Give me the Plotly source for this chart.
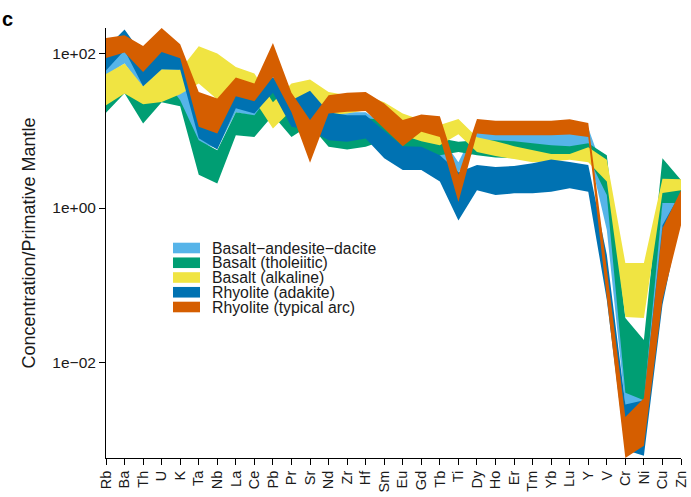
import math
import plotly.graph_objects as go

elements = ["Rb", "Ba", "Th", "U", "K", "Ta", "Nb", "La", "Ce", "Pb", "Pr", "Sr", "Nd", "Zr", "Hf", "Sm",
            "Eu", "Gd", "Tb", "Ti", "Dy", "Ho", "Er", "Tm", "Yb", "Lu", "Y", "V", "Cr", "Ni", "Cu", "Zn"]

groups = ["Basalt\u2212andesite\u2212dacite", "Basalt (tholeiitic)", "Basalt (alkaline)",
          "Rhyolite (adakite)", "Rhyolite (typical arc)"]
colors = ["#56B4E9", "#009E73", "#F0E442", "#0072B2", "#D55E00"]

bad_max = [127, 147, 94, 147, 60, 28.7, 24.8, 39, 33, 45, 24.8, 28.7, 18.4, 17.3, 17.3, 11.8,
           7.5, 8.7, 8.7, 3.9, 11.8, 11.8, 11.8, 11.8, 11.8, 11.8, 10.8, 2.3, 0.0060, 0.0052, 1.27, 1.7]
bad_min = [52, 74, 35, 57, 21.3, 7.1, 5.9, 17.3, 15.4, 31, 13.7, 11.8, 8.7, 8.0, 8.5, 5.6,
           4.2, 4.2, 3.6, 2.9, 6.1, 6.1, 6.1, 6.1, 6.1, 6.1, 5.6, 0.52, 0.0027, 0.0025, 0.57, 0.81]

tho_max = [45, 60, 33, 52, 24.8, 7.5, 5.6, 17.3, 15.8, 33, 21.3, 18.4, 15.8, 14.5, 14.5, 13.7,
           10.1, 9.3, 8.0, 7.2, 7.5, 7.5, 7.3, 6.9, 6.5, 6.3, 6.9, 4.8, 0.038, 0.0198, 4.4, 2.3]
tho_min = [17.0, 30.5, 12.4, 23.3, 20.7, 2.7, 2.08, 8.7, 8.3, 15.8, 8.3, 11.8, 6.2, 5.7, 6.2, 7.5,
           5.6, 5.3, 4.8, 5.3, 4.8, 4.5, 4.4, 4.4, 4.4, 4.4, 4.5, 1.47, 0.0041, 0.0033, 1.16, 1.16]

alk_max = [54, 73.6, 37.5, 62, 61, 123, 99, 66.5, 54.7, 23.3, 40.6, 45.8, 31.7, 28.7, 28.7, 23.3,
           16.7, 13.7, 11.8, 14.1, 8.2, 7.3, 6.3, 5.6, 5.0, 5.0, 6.1, 4.2, 0.195, 0.195, 2.4, 2.35]
alk_min = [21.3, 30.2, 22, 23.5, 29.6, 40.6, 25.3, 31, 24.8, 10.7, 18.4, 24.8, 15.8, 16.7, 18.4, 11.8,
           8.7, 7.3, 6.5, 9.0, 5.3, 4.7, 4.3, 3.9, 4.0, 4.2, 3.9, 2.2, 0.039, 0.038, 1.56, 1.7]

ada_max = [116, 202, 94, 147, 109, 24.8, 21.3, 39, 33, 49.4, 24.8, 32.7, 17.3, 15.8, 15.8, 10.1,
           6.3, 6.2, 4.8, 2.9, 3.6, 3.4, 3.5, 3.8, 4.25, 3.95, 3.6, 0.25, 0.0029, 0.0033, 0.60, 1.6]
ada_min = [60, 109, 37.5, 62, 61, 8.0, 5.7, 19.5, 16.7, 31, 11.2, 10.1, 7.5, 7.2, 7.9, 4.4,
           3.1, 3.1, 2.2, 0.69, 1.7, 1.47, 1.55, 1.55, 1.62, 1.8, 1.62, 0.065, 0.00075, 0.00063, 0.056, 0.81]

arc_max = [157, 171, 124, 212, 131, 31.7, 26, 48.5, 40.6, 136, 31, 13.7, 28.7, 30.8, 31.7, 22.4,
           13.7, 16.2, 15.4, 2.7, 14.1, 13.4, 13.4, 13.4, 13.4, 14.0, 12.6, 0.163, 0.0020, 0.0035, 0.55, 1.7]
arc_min = [87, 102, 57.4, 104, 86, 11.2, 9.2, 27.9, 24, 49.4, 17.3, 3.85, 16.7, 17.5, 17.9, 10.7,
           6.3, 9.7, 8.3, 1.2, 9.2, 8.7, 8.7, 8.7, 8.7, 8.9, 8.3, 0.071, 0.00059, 0.00085, 0.065, 0.60]

ranges_max = [bad_max, tho_max, alk_max, ada_max, arc_max]
ranges_min = [bad_min, tho_min, alk_min, ada_min, arc_min]

FONT = "Liberation Sans, Arial, sans-serif"
W, H = 691, 497
ML, MR, MT, MB = 106, 10, 28, 39
PW, PH = W - ML - MR, H - MT - MB


def px_x(px):
    return (px - ML) / PW


def px_y(py):
    return (H - MB - py) / PH


fig = go.Figure()
idx = list(range(len(elements)))
for name, col, hi, lo in zip(groups, colors, ranges_max, ranges_min):
    fig.add_trace(go.Scatter(
        x=idx + idx[::-1], y=hi + lo[::-1], mode="lines", fill="toself",
        fillcolor=col, line=dict(width=0, color=col), name=name,
        showlegend=False, hoverinfo="skip"))

all_vals = [v for s in ranges_max + ranges_min for v in s]
yr = [math.log10(min(all_vals)), math.log10(max(all_vals))]

# manual legend (keys + labels)
shapes = []
annotations = []
for i, (name, col) in enumerate(zip(groups, colors)):
    yc = 248 + 14.75 * i
    shapes.append(dict(type="rect", xref="paper", yref="paper",
                       x0=px_x(173), x1=px_x(200), y0=px_y(yc + 5.3), y1=px_y(yc - 5.3),
                       fillcolor=col, line=dict(width=0)))
    annotations.append(dict(text=name, xref="paper", yref="paper", x=px_x(210), y=px_y(yc),
                            xanchor="left", yanchor="middle", showarrow=False,
                            font=dict(family=FONT, size=15.8, color="#1a1a1a")))

annotations.append(dict(text="Concentration/Primative Mantle", xref="paper", yref="paper",
                        x=px_x(28.5), y=0.5, xanchor="center", yanchor="middle", textangle=-90,
                        showarrow=False, font=dict(family=FONT, size=18, color="#1a1a1a")))
annotations.append(dict(text="<b>c</b>", xref="paper", yref="paper", x=px_x(0), y=px_y(19),
                        xanchor="left", yanchor="middle", showarrow=False,
                        font=dict(family=FONT, size=20, color="black")))

fig.update_layout(
    width=W, height=H, autosize=False,
    margin=dict(l=ML, r=MR, t=MT, b=MB, autoexpand=False),
    paper_bgcolor="white", plot_bgcolor="white",
    shapes=shapes, annotations=annotations,
    xaxis=dict(range=[0, len(elements) - 1], tickmode="array", tickvals=idx, ticktext=elements,
               tickangle=-90, ticks="outside", ticklen=6, tickwidth=1, tickcolor="black",
               showline=True, linecolor="black", linewidth=1, showgrid=False, zeroline=False,
               automargin=False,
               tickfont=dict(family=FONT, size=14.5, color="#1a1a1a")),
    yaxis=dict(type="log", range=yr, tickmode="array", tickvals=[0.01, 1, 100],
               ticktext=["1e\u221202", "1e+00", "1e+02"],
               ticks="outside", ticklen=6, tickwidth=1, tickcolor="black",
               showline=True, linecolor="black", linewidth=1, showgrid=False, zeroline=False,
               automargin=False,
               tickfont=dict(family=FONT, size=15.5, color="#1a1a1a")),
)

fig.write_html("out.html")
